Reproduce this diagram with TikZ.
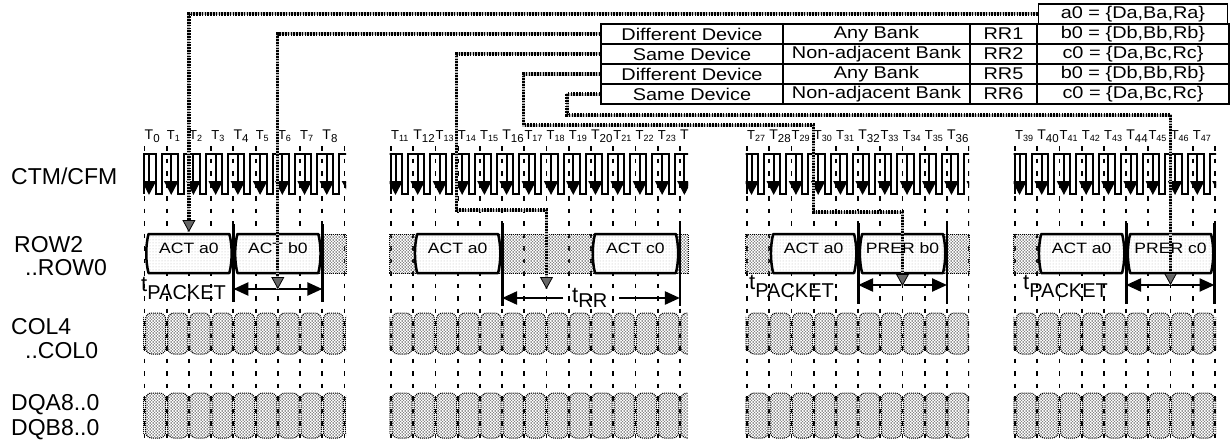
\documentclass[tikz,border=0pt]{standalone}
\usepackage{fontspec}
\setmainfont{Liberation Sans}
\newfontfamily\widefont[FakeStretch=1.17]{Liberation Sans}
\usetikzlibrary{patterns,arrows.meta,calc}
\pgfdeclarepatternformonly{mesh}{\pgfqpoint{-1pt}{-1pt}}{\pgfqpoint{4pt}{4pt}}{\pgfqpoint{3pt}{3pt}}{%
  \pgfsetlinewidth{0.55pt}%
  \pgfpathmoveto{\pgfqpoint{-0.1pt}{-0.1pt}}\pgfpathlineto{\pgfqpoint{3.1pt}{3.1pt}}%
  \pgfpathmoveto{\pgfqpoint{-0.1pt}{3.1pt}}\pgfpathlineto{\pgfqpoint{3.1pt}{-0.1pt}}%
  \pgfusepath{stroke}}
\def\pp{22.22}
\def\ctop{154}
\def\cbot{194}
\def\rt{234}
\def\rb{273}
\newcommand\fs[1]{\fontsize{#1}{#1}\selectfont}
\newcommand\tseg[6]{%
 \begin{scope}
  \clip (#5,118) rectangle (#6,444);
  \foreach \k in {0,...,#4} {\draw[gridln] ({#1+(\k)*\pp},146) -- ({#1+(\k)*\pp},444);}
  \foreach \k in {-1,...,#4} {
    \draw[bus] ({#1+(\k)*\pp+1},313) rectangle ({#1+(\k+1)*\pp-1},354);
    \draw[bus] ({#1+(\k)*\pp+1},393) rectangle ({#1+(\k+1)*\pp-1},438);
  }
  \draw[clk] ({#1-40},\ctop) \foreach \k in {-1,...,#4} { -- ({#1+(\k)*\pp+11},\ctop) -- ({#1+(\k)*\pp+11},\cbot) -- ({#1+(\k)*\pp+17},\cbot) -- ({#1+(\k)*\pp+17},\ctop) };
  \foreach \k in {-1,...,#4} {\draw[clkarr] ({#1+(\k)*\pp+4.5},\ctop) -- ({#1+(\k)*\pp+4.5},\cbot+1);}
  \draw[clk] ({#5+1},\ctop) -- ({#5+1},\cbot);
  \foreach \n in {#2,...,#3} {
    \pgfmathtruncatemacro\mm{mod(\n,4)}
    \pgfmathsetmacro\gx{#1+(\n-#2)*\pp}
    \ifnum\mm=0
      \node[tlab] (T\n) at (\gx,139) {\fs{14}T\raisebox{-3.5pt}{\fs{11.5}\n}};
    \else
      \node[tlab] (T\n) at (\gx,139) {\fs{13}T\raisebox{-2.5pt}{\fs{9}\n}};
    \fi
  }
 \end{scope}}
\newcommand\pkt[4]{%
 \draw[pkt] (#2+4,\rt) -- (#3-4,\rt) .. controls (#3-1,\rt+12) and (#3-1,\rb-12) .. (#3-4,\rb) -- (#2+4,\rb) .. controls (#2+1,\rb-12) and (#2+1,\rt+12) .. (#2+4,\rt) -- cycle;
 \node[pkttxt] (#1) at ({(#2+#3)/2},248) {#4};}
\newcommand\dcr[2]{\draw[dc] (#1,\rt) rectangle (#2,\rb);}
\begin{document}
\begin{tikzpicture}[x=1pt,y=-1pt,
  gridln/.style={line width=1.8pt, dash pattern=on 4.5pt off 8pt},
  clk/.style={line width=2pt, line join=miter},
  clkarr/.style={line width=2pt, -{Triangle[length=14pt,width=14pt]}},
  bus/.style={rounded corners=6pt, draw=black, line width=1pt, densely dotted, pattern=mesh, pattern color=black!60},
  dc/.style={draw=black, line width=1pt, densely dotted, pattern=mesh, pattern color=black!60},
  pkt/.style={draw, line width=2.5pt, line join=round, preaction={fill=white}, pattern=dots, pattern color=gray!55},
  pkttxt/.style={font=\widefont\fs{15}, inner sep=0pt},
  tlab/.style={anchor=base west, inner sep=0pt},
  sig/.style={anchor=base west, inner sep=0pt, font=\fs{23}},
  cell/.style={draw, line width=1.5pt, inner sep=0pt, font=\widefont\fs{17}, minimum height=20pt},
  bar/.style={line width=2.8pt},
  dimarr/.style={line width=2.4pt, {Triangle[length=15pt,width=13pt]}-{Triangle[length=15pt,width=13pt]}},
  dimone/.style={line width=2.4pt, -{Triangle[length=15pt,width=13pt]}},
  tlbl/.style={anchor=base west, inner sep=0pt},
  link/.style={line width=3.2pt, dash pattern=on 1.6pt off 1.2pt,
     preaction={draw=gray!50, solid, line width=3pt, -},
     -{Triangle[length=12pt,width=13pt,line width=0.8pt,fill=black!60]}},
]
\useasboundingbox (0,0) rectangle (1231,444);
\fill[white] (0,0) rectangle (1231,444);

% signal names
\node[sig] (lclk) at (11,184) {CTM/CFM};
\node[sig] (lrow1) at (14,252) {ROW2};
\node[sig] (lrow2) at (25,275) {..ROW0};
\node[sig] (lcol1) at (11,334) {COL4};
\node[sig] (lcol2) at (25,358) {..COL0};
\node[sig] (ldq1) at (11,410) {DQA8..0};
\node[sig] (ldq2) at (11,435) {DQB8..0};

% time windows
\tseg{144.5}{0}{8}{9}{143}{346}
\tseg{391}{11}{24}{13}{389.5}{688}
\tseg{747}{27}{36}{10}{745.5}{969}
\tseg{1015}{39}{47}{9}{1013.5}{1216}

% ROW don't care
\dcr{318}{346}
\dcr{389.5}{417}
\dcr{498}{595}
\dcr{676}{688}
\dcr{745.5}{773}
\dcr{943}{969}
\dcr{1013.5}{1041}

% ROW packets
\pkt{p1}{144.5}{233.4}{ACT a0}
\pkt{p2}{233.4}{322.3}{ACT b0}
\pkt{p3}{413.2}{502.1}{ACT a0}
\pkt{p4}{591}{679.9}{ACT c0}
\pkt{p5}{769.2}{858.1}{ACT a0}
\pkt{p6}{858.1}{947}{PRER b0}
\pkt{p7}{1037.2}{1126.1}{ACT a0}
\pkt{p8}{1126.1}{1215}{PRER c0}

% boundary bars
\draw[bar] (233.4,224) -- (233.4,302);
\draw[bar] (322.3,224) -- (322.3,302);
\draw[bar] (502.1,223) -- (502.1,306);
\draw[bar] (679.9,223) -- (679.9,306);
\draw[bar] (858.1,223) -- (858.1,304);
\draw[bar] (947,223) -- (947,304);
\draw[bar] (1126.1,223) -- (1126.1,304);
\draw[bar] (1214.5,223) -- (1214.5,304);

% timing parameters
\coordinate (s1a) at (233.4,289); \coordinate (s1b) at (322.3,289);
\draw[dimarr] (s1a) -- (s1b);
\node[tlbl] (tp1) at (141,291) {\fs{22}t\raisebox{-8pt}{\fs{20}PACKET}};
\coordinate (s3a) at (858.1,285); \coordinate (s3b) at (947,285);
\draw[dimarr] (s3a) -- (s3b);
\node[tlbl] (tp3) at (749,289) {\fs{22}t\raisebox{-8pt}{\fs{20}PACKET}};
\coordinate (s4a) at (1126.1,285); \coordinate (s4b) at (1214.5,285);
\draw[dimarr] (s4a) -- (s4b);
\node[tlbl] (tp4) at (1023,289) {\fs{22}t\raisebox{-8pt}{\fs{20}PACKET}};
\node[tlbl] (trr) at (572,302) {\fs{22}t\raisebox{-5pt}{\fs{20}RR}};
\coordinate (r16) at (502.1,298); \coordinate (r24) at (679.9,298);
\coordinate (rl) at (563,298); \coordinate (rr) at (619,298);
\draw[dimone] (rl) -- (r16);
\draw[dimone] (rr) -- (r24);

% table
\node[cell, minimum width=189pt] (a0) at (1133,14) {a0 = \{Da,Ba,Ra\}};
\node[cell, minimum width=182pt] (r1a) at (692,34) {Different Device};
\node[cell, minimum width=187pt] (r1b) at (876.5,34) {Any Bank};
\node[cell, minimum width=67pt]  (r1c) at (1003.5,34) {RR1};
\node[cell, minimum width=192pt] (r1d) at (1133,34) {b0 = \{Db,Bb,Rb\}};
\node[cell, minimum width=182pt] (r2a) at (692,54) {Same Device};
\node[cell, minimum width=187pt] (r2b) at (876.5,54) {Non-adjacent Bank};
\node[cell, minimum width=67pt]  (r2c) at (1003.5,54) {RR2};
\node[cell, minimum width=192pt] (r2d) at (1133,54) {c0 = \{Da,Bc,Rc\}};
\node[cell, minimum width=182pt] (r5a) at (692,74) {Different Device};
\node[cell, minimum width=187pt] (r5b) at (876.5,74) {Any Bank};
\node[cell, minimum width=67pt]  (r5c) at (1003.5,74) {RR5};
\node[cell, minimum width=192pt] (r5d) at (1133,74) {b0 = \{Db,Bb,Rb\}};
\node[cell, minimum width=182pt] (r6a) at (692,94) {Same Device};
\node[cell, minimum width=187pt] (r6b) at (876.5,94) {Non-adjacent Bank};
\node[cell, minimum width=67pt]  (r6c) at (1003.5,94) {RR6};
\node[cell, minimum width=192pt] (r6d) at (1133,94) {c0 = \{Da,Bc,Rc\}};

% links from table to packets
\coordinate (k1) at (188.9,232);
\draw[link] (a0.west) -| (k1);
\coordinate (k2) at (277.8,289);
\draw[link] (r1a.west) -| (k2);
\coordinate (k3a) at (456.5,210); \coordinate (k3) at (546.5,289);
\draw[link] (r2a.west) -| (k3a) -| (k3);
\coordinate (k5a) at (523.5,125); \coordinate (k5b) at (813.7,212); \coordinate (k5) at (902.5,286);
\draw[link] (r5a.west) -| (k5a) -| (k5b) -| (k5);
\coordinate (k6a) at (567,115); \coordinate (k6) at (1170.5,285);
\draw[link] (r6a.west) -| (k6a) -| (k6);
\end{tikzpicture}
\end{document}
